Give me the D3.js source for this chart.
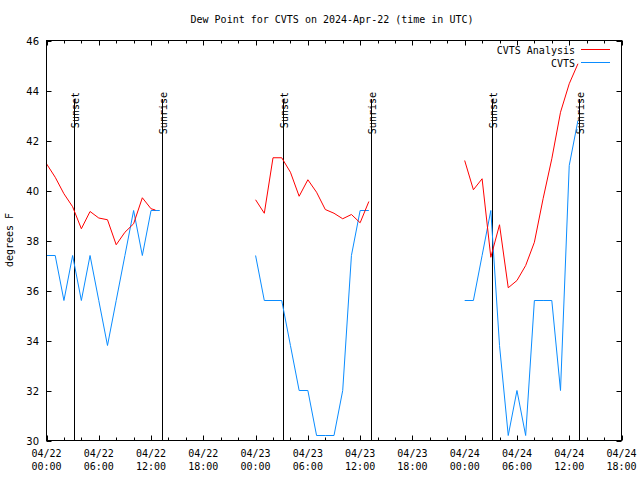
<!DOCTYPE html>
<html>
<head>
<meta charset="utf-8">
<script src="https://cdn.jsdelivr.net/npm/d3@7"></script>
<style>
  html, body { margin: 0; padding: 0; background: #fff; }
  svg text { font-family: "DejaVu Sans Mono", monospace; font-size: 10px; fill: #000; }
</style>
</head>
<body>
<svg id="chart" width="640" height="480"></svg>
<script>
// ---- data (hours after 2024-04-22 00:00 UTC) ----
const analysisHours = [0,1,2,3,4,5,6,7,8,9,10,11,12,12.5, 18,
  24,25,26,27,28,29,30,31,32,33,34,35,36,37, 42,
  48,49,50,51,52,53,54,55,56,57,58,59,60,61];
const analysisValues = [41.07,40.53,39.87,39.35,38.47,39.16,38.9,38.83,37.83,38.33,38.67,39.71,39.27,39.22, null,
  39.63,39.09,41.31,41.31,40.73,39.77,40.43,39.93,39.24,39.09,38.87,39.04,38.71,39.56, null,
  41.2,40.03,40.47,37.33,38.63,36.11,36.4,37.0,37.93,39.67,41.27,43.13,44.27,45.07];

const obsHours = [0,1,2,3,4,5,6,7,8,9,10,11,12,13, 18,
  24,25,26,27,28,29,30,31,32,33,34,35,36,37, 42,
  48,49,50,51,52,53,54,55,56,57,58,59,60,61];
const obsValues = [37.4,37.4,35.6,37.4,35.6,37.4,35.6,33.8,35.6,37.4,39.2,37.4,39.2,39.2, null,
  37.4,35.6,35.6,35.6,33.8,32.0,32.0,30.2,30.2,30.2,32.0,37.4,39.2,39.2, null,
  35.6,35.6,37.4,39.2,33.8,30.2,32.0,30.2,35.6,35.6,35.6,32.0,41.0,42.8];

const sunsetHours = [3.15, 27.17, 51.15];
const sunriseHours = [13.2, 37.2, 61.1];

const yTicks = [30,32,34,36,38,40,42,44,46];
const seriesNames = ["CVTS Analysis", "CVTS"];
const titleText = "Dew Point for CVTS on 2024-Apr-22 (time in UTC)";
const yLabel = "degrees F";

// ---- layout ----
const svg = d3.select("#chart");
const L = 46.5, R = 621.5, T = 40.5, B = 440.5;
const t0 = Date.UTC(2024, 3, 22, 0, 0);
const toDate = h => new Date(t0 + h * 3600000);

const x = d3.scaleUtc().domain([toDate(0), toDate(66)]).range([L, R]);
const y = d3.scaleLinear().domain([30, 46]).range([B, T]);

// title
svg.append("text").attr("x", 332).attr("y", 23).attr("text-anchor", "middle").text(titleText);

// y label
svg.append("text").attr("transform", `translate(13,${240}) rotate(-90)`)
  .attr("text-anchor", "middle").text(yLabel);

// axes ticks
const g = svg.append("g");
const minorTicks = d3.range(0, 67, 2).map(toDate);
const majorTicks = d3.range(0, 67, 6).map(toDate);
const tickFmtD = d3.utcFormat("%m/%d"), tickFmtT = d3.utcFormat("%H:%M");

minorTicks.forEach(d => {
  const xx = Math.round(x(d)) + 0.5;
  const major = ((d - t0) / 3600000) % 6 === 0;
  const len = major ? 5 : 3;
  g.append("line").attr("x1", xx).attr("x2", xx).attr("y1", B).attr("y2", B - len).attr("stroke", "#000");
  g.append("line").attr("x1", xx).attr("x2", xx).attr("y1", T).attr("y2", T + len).attr("stroke", "#000");
});
majorTicks.forEach(d => {
  const xx = x(d);
  g.append("text").attr("x", xx).attr("y", 457).attr("text-anchor", "middle").text(tickFmtD(d));
  g.append("text").attr("x", xx).attr("y", 470).attr("text-anchor", "middle").text(tickFmtT(d));
});
yTicks.forEach(v => {
  const yy = Math.round(y(v)) + 0.5;
  g.append("line").attr("x1", L).attr("x2", L + 5).attr("y1", yy).attr("y2", yy).attr("stroke", "#000");
  g.append("line").attr("x1", R).attr("x2", R - 5).attr("y1", yy).attr("y2", yy).attr("stroke", "#000");
  g.append("text").attr("x", 39).attr("y", y(v) + 4).attr("text-anchor", "end")
    .style("font-family", "'DejaVu Sans', sans-serif").style("font-size", "10px").text(v);
});

// sunset / sunrise lines
function sunLine(h, label) {
  const xx = Math.round(x(toDate(h))) + 0.5;
  svg.append("line").attr("x1", xx).attr("x2", xx).attr("y1", 99).attr("y2", B).attr("stroke", "#000");
  svg.append("text").attr("transform", `translate(${xx + 4},92) rotate(-90)`)
    .attr("text-anchor", "start").attr("dx", 0).text(label)
    .attr("text-anchor", "end");
}
sunsetHours.forEach(h => sunLine(h, "Sunset"));
sunriseHours.forEach(h => sunLine(h, "Sunrise"));

// data lines
const line = d3.line()
  .defined(d => d.v !== null)
  .x(d => x(toDate(d.h)))
  .y(d => y(d.v));

const analysis = analysisHours.map((h, i) => ({h, v: analysisValues[i]}));
const obs = obsHours.map((h, i) => ({h, v: obsValues[i]}));
const colors = ["#ff0000", "#0a8cff"];

svg.append("path").datum(obs).attr("d", line).attr("fill", "none").attr("stroke", colors[1]).attr("stroke-width", 1);
svg.append("path").datum(analysis).attr("d", line).attr("fill", "none").attr("stroke", colors[0]).attr("stroke-width", 1);

// legend
seriesNames.forEach((name, i) => {
  const ly = 49.5 + i * 13;
  svg.append("text").attr("x", 575).attr("y", ly + 4).attr("text-anchor", "end").text(name);
  svg.append("line").attr("x1", 581).attr("x2", 610).attr("y1", ly).attr("y2", ly).attr("stroke", colors[i]);
});

// border
svg.append("rect").attr("x", L).attr("y", T).attr("width", R - L).attr("height", B - T)
  .attr("fill", "none").attr("stroke", "#000");
</script>
</body>
</html>
